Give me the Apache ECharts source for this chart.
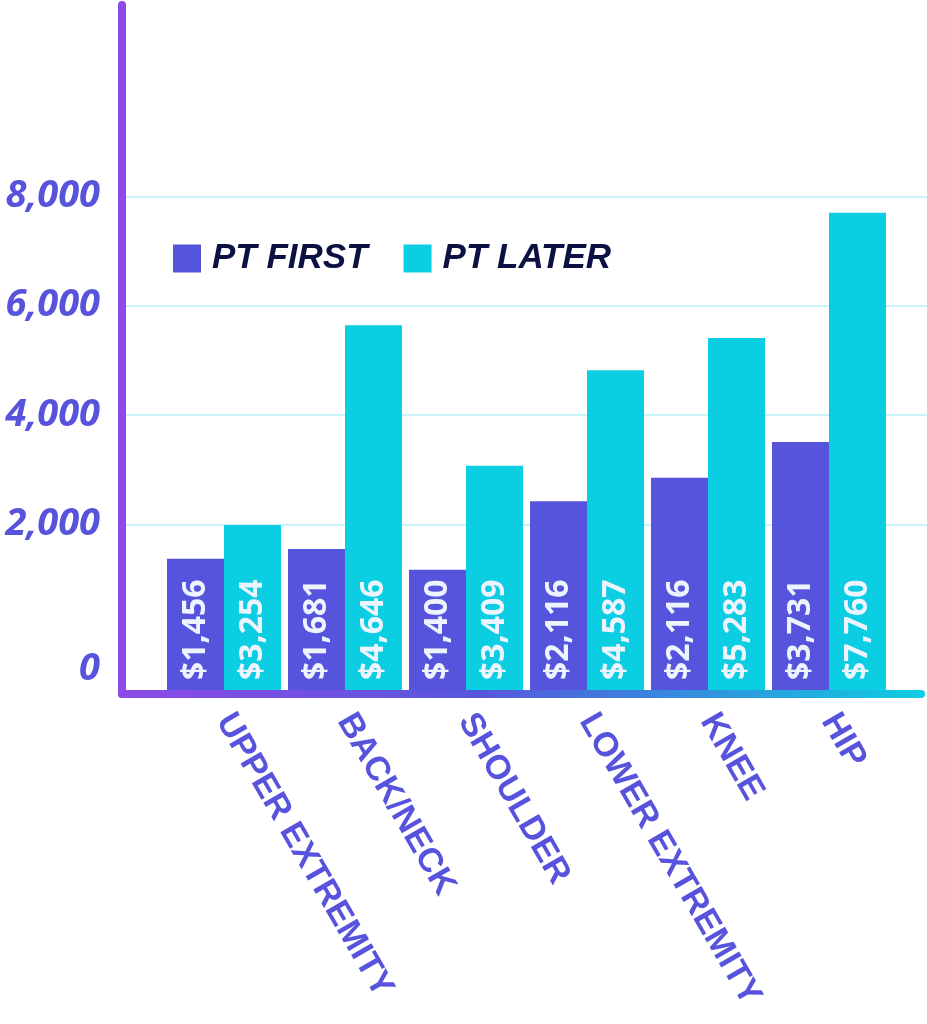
<!DOCTYPE html>
<html>
<head>
<meta charset="utf-8">
<script src="https://cdn.jsdelivr.net/npm/echarts@6/dist/echarts.min.js"></script>
<style>
html,body{margin:0;padding:0;background:#ffffff;}
#chart{width:927px;height:1024px;}
</style>
</head>
<body>
<div id="chart"></div>
<script>
// ---- data ----
const categories = ['UPPER EXTREMITY', 'BACK/NECK', 'SHOULDER', 'LOWER EXTREMITY', 'KNEE', 'HIP'];
const seriesNames = ['PT FIRST', 'PT LATER'];
// bar heights as drawn in the picture (read against the y axis)
const ptFirst = [1370, 1550, 1170, 2420, 2850, 3505];
const ptLater = [1990, 5640, 3070, 4820, 5410, 7700];
// printed cost labels on the bars
const ptFirstLabels = [1456, 1681, 1400, 2116, 2116, 3731];
const ptLaterLabels = [3254, 4646, 3409, 4587, 5283, 7760];
// y tick labels
const yTickValues = [0, 2000, 4000, 6000, 8000];
const yTickLabels = ['0', '2,000', '4,000', '6,000', '8,000'];

const C_FIRST = '#5654DD';
const C_LATER = '#0CCEE2';
const C_AXIS_TXT = '#5753DC';

const chart = echarts.init(document.getElementById('chart'), null, {renderer: 'canvas'});

const fmtMoney = n => '$' + n.toLocaleString('en-US');

const barLabel = (labels) => ({
  show: true,
  position: 'insideBottom',
  rotate: 90,
  align: 'left',
  verticalAlign: 'middle',
  distance: 10,
  color: '#EEF4FF',
  fontFamily: 'Open Sans',
  fontWeight: 'bold',
  fontSize: 32,
  formatter: p => fmtMoney(labels[p.dataIndex])
});

const option = {
  backgroundColor: '#ffffff',
  animation: false,
  legend: {
    left: 173,
    top: 241,
    padding: 0,
    itemWidth: 28,
    itemHeight: 28,
    itemGap: 36,
    icon: 'rect',
    data: seriesNames,
    textStyle: {
      color: '#0B1142',
      fontFamily: 'Liberation Sans',
      fontStyle: 'italic',
      fontWeight: 'bold',
      fontSize: 35,
      padding: [0, 0, 0, 6]
    }
  },
  grid: [
    // frame (axis lines)
    {left: 122, right: 6, top: 5, bottom: 330},
    // bars
    {left: 163.5, right: 37.5, top: 141.6, bottom: 334},
    // gridlines + y labels
    {left: 126, right: 0, top: 141.6, bottom: 390.4}
  ],
  xAxis: [
    {
      gridIndex: 0, type: 'value', min: 0, max: 1,
      axisLine: {show: true, onZero: false, lineStyle: {
        width: 8, cap: 'round',
        color: new echarts.graphic.LinearGradient(0, 0, 1, 0, [
          {offset: 0, color: '#8E4AE8'},
          {offset: 0.45, color: '#5757DC'},
          {offset: 1, color: '#0DCDE1'}
        ])
      }},
      axisTick: {show: false}, axisLabel: {show: false}, splitLine: {show: false}
    },
    {
      gridIndex: 1, type: 'category', data: categories,
      axisLine: {show: false}, axisTick: {show: false}, splitLine: {show: false},
      axisLabel: {
        rotate: -60,
        margin: 26,
        interval: 0,
        color: C_AXIS_TXT,
        fontFamily: 'Liberation Sans',
        fontWeight: 'bold',
        fontSize: 34
      }
    },
    {
      gridIndex: 2, type: 'value', min: 0, max: 1, show: false
    }
  ],
  yAxis: [
    {
      gridIndex: 0, type: 'value', min: 0, max: 1,
      axisLine: {show: true, onZero: false, lineStyle: {width: 8, cap: 'round', color: '#8C4AE8'}},
      axisTick: {show: false}, axisLabel: {show: false}, splitLine: {show: false}
    },
    {
      gridIndex: 1, type: 'value', min: -1030, max: 9000, startValue: -1030,
      axisLine: {show: false}, axisTick: {show: false}, axisLabel: {show: false}, splitLine: {show: false}
    },
    {
      gridIndex: 2, type: 'value', min: 0, max: 9000, interval: 2000,
      axisLine: {show: false}, axisTick: {show: false},
      splitLine: {show: true, showMinLine: false, showMaxLine: false, lineStyle: {color: '#C8F3F8', width: 2}},
      axisLabel: {
        margin: 26,
        color: C_AXIS_TXT,
        fontFamily: 'Open Sans',
        fontStyle: 'italic',
        fontWeight: 'bold',
        fontSize: 38,
        showMaxLabel: false,
        formatter: v => {
          const i = yTickValues.indexOf(v);
          if (i < 0) return '';
          if (v === 0) return '{z|' + yTickLabels[i] + '}';
          return yTickLabels[i];
        },
        rich: {
          z: {
            padding: [72, 0, 0, 0],
            color: C_AXIS_TXT,
            fontFamily: 'Open Sans',
            fontStyle: 'italic',
            fontWeight: 'bold',
            fontSize: 38
          }
        }
      }
    }
  ],
  series: [
    {
      name: seriesNames[0], type: 'bar', xAxisIndex: 1, yAxisIndex: 1,
      data: ptFirst, barGap: '0%', barCategoryGap: '5.8%',
      itemStyle: {color: C_FIRST},
      label: barLabel(ptFirstLabels)
    },
    {
      name: seriesNames[1], type: 'bar', xAxisIndex: 1, yAxisIndex: 1,
      data: ptLater, barGap: '0%', barCategoryGap: '5.8%',
      itemStyle: {color: C_LATER},
      label: barLabel(ptLaterLabels)
    }
  ]
};
chart.setOption(option);
</script>
</body>
</html>
